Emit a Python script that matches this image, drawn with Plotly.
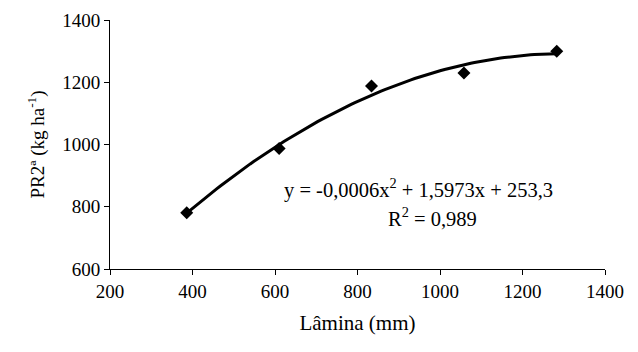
import numpy as np
import plotly.graph_objects as go

lamina = [386, 610, 834, 1058, 1283]
pr2a = [781, 987, 1188, 1230, 1300]

x_ticks = [200, 400, 600, 800, 1000, 1200, 1400]
y_ticks = [600, 800, 1000, 1200, 1400]

coef = np.polyfit(lamina, pr2a, 2)
xs = np.linspace(min(lamina), max(lamina), 100)
ys = np.polyval(coef, xs)

font = "Liberation Serif"

fig = go.Figure()
fig.add_trace(go.Scatter(x=xs, y=ys, mode="lines",
                         line=dict(color="black", width=3), showlegend=False))
fig.add_trace(go.Scatter(x=lamina, y=pr2a, mode="markers",
                         marker=dict(symbol="diamond", size=10, color="black"),
                         showlegend=False))

fig.add_annotation(x=947, y=860, xref="x", yref="y",
                   text="y = -0,0006x<sup>2</sup> + 1,5973x + 253,3",
                   showarrow=False, font=dict(family=font, size=20.5, color="black"))
fig.add_annotation(x=981, y=767, xref="x", yref="y",
                   text="R<sup>2</sup> = 0,989",
                   showarrow=False, font=dict(family=font, size=20.5, color="black"))

fig.update_layout(
    width=630, height=344,
    margin=dict(l=102, r=33, t=12, b=83),
    paper_bgcolor="white", plot_bgcolor="white",
    font=dict(family=font, size=19, color="black"),
    xaxis=dict(range=[200, 1400], tickvals=x_ticks, showline=True, linecolor="black",
               linewidth=1, ticks="outside", ticklen=5, tickcolor="black",
               showgrid=False, zeroline=False, automargin=False,
               tickfont=dict(family=font, size=19),
               title=dict(text="Lâmina (mm)", font=dict(family=font, size=21), standoff=14)),
    yaxis=dict(range=[600, 1400], tickvals=y_ticks, showline=True, linecolor="black",
               linewidth=1, ticks="outside", ticklen=5, tickcolor="black",
               showgrid=False, zeroline=False, automargin=False,
               tickfont=dict(family=font, size=19),
               title=dict(text="PR2ª (kg ha<sup>-1</sup>)", font=dict(family=font, size=19), standoff=12)),
)

fig.write_html("out.html")
